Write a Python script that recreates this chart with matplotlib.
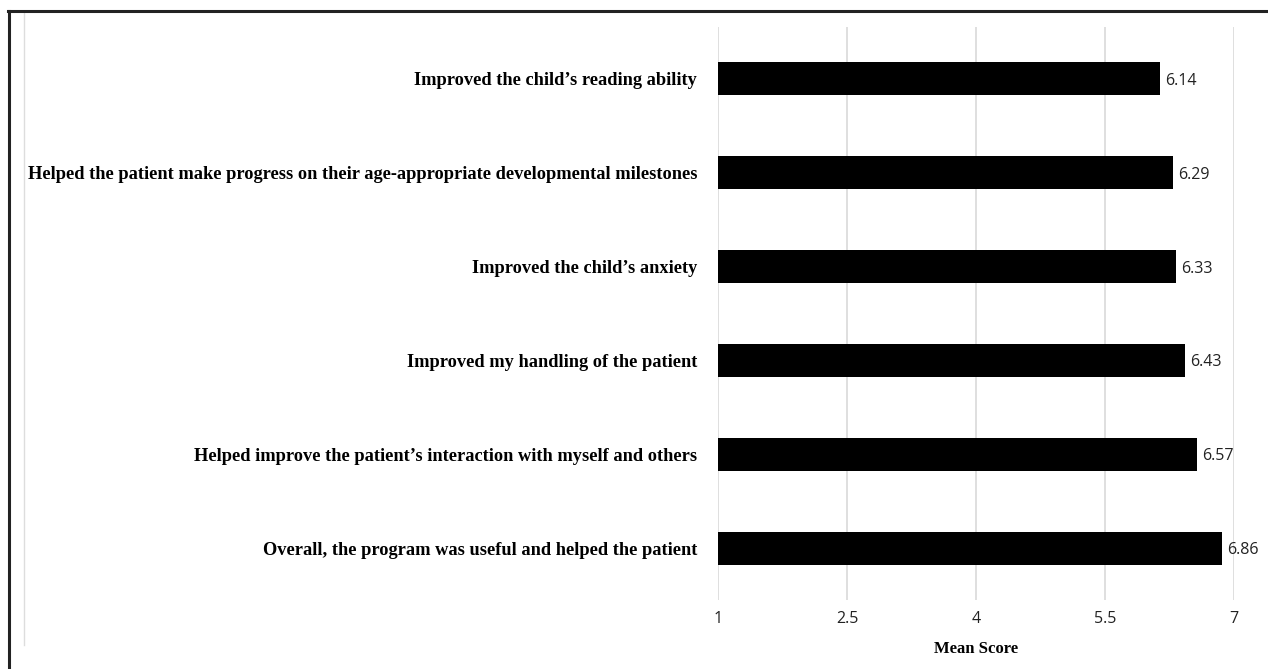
import matplotlib
matplotlib.use("Agg")
import matplotlib.pyplot as plt
from matplotlib.lines import Line2D

items = [
    "Improved the child\u2019s reading ability",
    "Helped the patient make progress on their age-appropriate developmental milestones",
    "Improved the child\u2019s anxiety",
    "Improved my handling of the patient",
    "Helped improve the patient\u2019s interaction with myself and others",
    "Overall, the program was useful and helped the patient",
]
scores = [6.14, 6.29, 6.33, 6.43, 6.57, 6.86]
ticks = [1, 2.5, 4, 5.5, 7]
tick_labels = ["1", "2.5", "4", "5.5", "7"]

fig = plt.figure(figsize=(12.68, 6.69), dpi=100)
ax = fig.add_axes([0.5662, 0.1031, 0.4070, 0.8565])

pos = list(range(len(items)))
ax.barh(pos, [s - 1 for s in scores], left=1, height=0.35, color="black")
for p, s in zip(pos, scores):
    ax.annotate(f"{s:.2f}", (s, p), xytext=(3.5, 0), textcoords="offset points",
                va="center_baseline", ha="left", fontsize=11.5, family="Open Sans",
                color="#222222")

ax.set_xlim(1, 7)
ax.set_ylim(len(items) - 0.45, -0.55)
ax.set_xticks(ticks)
ax.set_xticklabels(tick_labels, family="Open Sans", fontsize=11.5, color="#222222")
ax.set_yticks(pos)
ax.set_yticklabels(items, family="Liberation Serif", fontweight="bold", fontsize=13.25)
ax.tick_params(axis="both", length=0)
ax.tick_params(axis="x", pad=8)
ax.tick_params(axis="y", pad=15)
ax.xaxis.grid(True, color="#d9d9d9", linewidth=1.2)
ax.set_axisbelow(True)
for sp in ax.spines.values():
    sp.set_visible(False)
ax.set_xlabel("Mean Score", family="Liberation Serif", fontweight="bold", fontsize=12, labelpad=10)

# outer frame (top and left edges) and thin inner rule
W, H = 1268, 669
fig.add_artist(Line2D([8 / W, 1], [1 - 10.5 / H, 1 - 10.5 / H], color="#222222", linewidth=2.2,
                      solid_capstyle="projecting", transform=fig.transFigure))
fig.add_artist(Line2D([9 / W, 9 / W], [0, 1 - 10.5 / H], color="#222222", linewidth=2.2,
                      solid_capstyle="projecting", transform=fig.transFigure))
fig.add_artist(Line2D([24 / W, 24 / W], [1 - 645 / H, 1 - 12 / H], color="#dddddd", linewidth=1.0,
                      zorder=-1, transform=fig.transFigure))

fig.savefig("out.png", dpi=100)
